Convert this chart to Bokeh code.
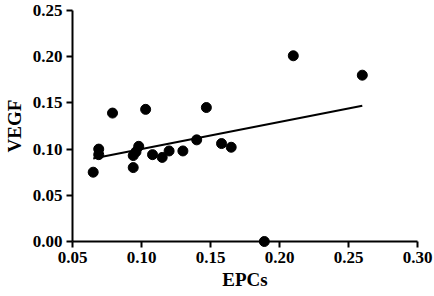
import numpy as np
from bokeh.plotting import figure
from bokeh.models import Range1d, FixedTicker, CustomJSTickFormatter
from bokeh.embed import file_html
from bokeh.resources import INLINE

epcs = [0.065, 0.069, 0.069, 0.079, 0.094, 0.094, 0.096, 0.098, 0.103, 0.108,
        0.115, 0.120, 0.130, 0.140, 0.147, 0.158, 0.165, 0.189, 0.210, 0.260]
vegf = [0.075, 0.100, 0.094, 0.139, 0.080, 0.093, 0.097, 0.103, 0.143, 0.094,
        0.091, 0.098, 0.098, 0.110, 0.145, 0.106, 0.102, 0.000, 0.201, 0.180]
x_ticks = [0.05, 0.10, 0.15, 0.20, 0.25, 0.30]
y_ticks = [0.00, 0.05, 0.10, 0.15, 0.20, 0.25]

slope, intercept = np.polyfit(epcs, vegf, 1)
fit_x = [min(epcs), max(epcs)]
fit_y = [slope * v + intercept for v in fit_x]

FONT = "Liberation Serif"

p = figure(width=434, height=296, output_backend="svg", toolbar_location=None,
           x_range=Range1d(0.05, 0.30), y_range=Range1d(0.0, 0.25),
           min_border_left=67, min_border_right=17, min_border_top=10,
           min_border_bottom=55)
p.outline_line_color = None
p.grid.visible = False
p.background_fill_color = "white"
p.border_fill_color = "white"

p.line(fit_x, fit_y, line_color="black", line_width=2)
p.scatter(epcs, vegf, size=10, color="black", level="overlay")

p.xaxis.ticker = FixedTicker(ticks=x_ticks)
p.yaxis.ticker = FixedTicker(ticks=y_ticks)
p.xaxis.axis_label = "EPCs"
p.yaxis.axis_label = "VEGF"
for ax in (p.xaxis, p.yaxis):
    ax.minor_tick_line_color = None
    ax.major_tick_in = 0
    ax.major_tick_out = 6
    ax.major_tick_line_width = 2
    ax.axis_line_width = 2
    ax.axis_line_color = "black"
    ax.major_tick_line_color = "black"
    ax.major_label_text_font = FONT
    ax.major_label_text_font_style = "bold"
    ax.major_label_text_font_size = "17px"
    ax.major_label_text_color = "black"
    ax.axis_label_text_font = FONT
    ax.axis_label_text_font_style = "bold"
    ax.axis_label_text_font_size = "19px"
    ax.axis_label_text_color = "black"
    ax.formatter = CustomJSTickFormatter(code="return tick.toFixed(2);")
p.yaxis.major_label_standoff = 4
p.yaxis.axis_label_standoff = 5
p.xaxis.major_label_standoff = 4
p.xaxis.axis_label_standoff = 3

open("out.html", "w").write(file_html(p, INLINE))
